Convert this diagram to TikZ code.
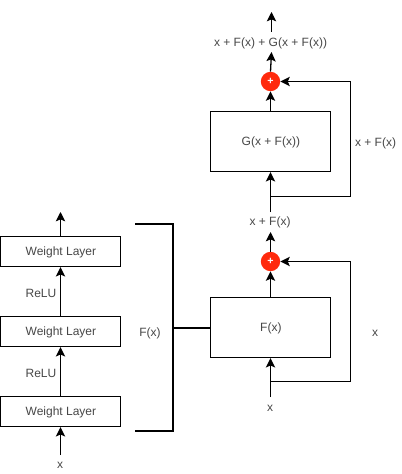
\documentclass[tikz,border=0pt]{standalone}
\usepackage{fontspec}
\setmainfont{Liberation Sans}
\usetikzlibrary{arrows.meta}
\definecolor{sumred}{HTML}{FF2A0D}
\tikzset{
  x=0.75pt,y=-0.75pt,
  box/.style={draw=black,line width=0.98pt,fill=white,inner sep=0pt,anchor=center},
  boxtext/.style={text=black!72,font=\fontsize{9}{11}\selectfont},
  lab/.style={inner sep=0pt,yshift=-0.9pt,text=black!72,font=\fontsize{9}{11}\selectfont,anchor=center},
  sumnode/.style={circle,fill=sumred,draw=none,minimum size=14.5pt,inner sep=0pt,text=white,font=\bfseries\fontsize{8}{8}\selectfont},
  arr/.style={draw=black,line width=0.98pt,-{Stealth[length=7pt,width=7pt,inset=1.5pt]}},
  brk/.style={draw=black,line width=1.9pt,line join=miter}
}
\newcommand{\lowered}[1]{\hspace{0.6pt}\raisebox{0pt}[7pt][0.4pt]{#1}}
\begin{document}
\begin{tikzpicture}
\useasboundingbox (0,0) rectangle (401,474);
% left stack
\node[box,boxtext,minimum width=90pt,minimum height=22.5pt] (w1) at (60.5,411.5) {\lowered{Weight Layer}};
\node[box,boxtext,minimum width=90pt,minimum height=22.5pt] (w2) at (60.5,331.5) {\lowered{Weight Layer}};
\node[box,boxtext,minimum width=90pt,minimum height=22.5pt] (w3) at (60.5,251.5) {\lowered{Weight Layer}};
\node[lab] (xa) at (60,464) {x};
\node[lab] (r1) at (41,372) {ReLU};
\node[lab] (r2) at (41,292) {ReLU};
\node[lab] (fl) at (150,332) {F(x)};
\coordinate (xas) at (60.5,455);
\coordinate (wt) at (60.5,212);
\draw[arr] (xas) -- (w1.south);
\draw[arr] (w1.north) -- (w2.south);
\draw[arr] (w2.north) -- (w3.south);
\draw[arr] (w3.north) -- (wt);
% F block
\node[box,boxtext,minimum width=90pt,minimum height=45pt] (f) at (270.5,327.5) {\lowered{F(x)}};
\node[sumnode] (s1) at (270.5,261.5) {+};
\node[lab] (xb) at (270,407.5) {x};
\node[lab] (xr) at (375,332) {x};
\node[lab] (m) at (270,221) {x + F(x)};
\coordinate (xbs) at (270.5,397);
\coordinate (j1) at (270.5,381.5);
\coordinate (c1) at (350.5,381.5);
\coordinate (c2) at (350.5,261.5);
\coordinate (s1t) at (270.5,232);
\draw[arr] (xbs) -- (f.south);
\draw[arr] (f.north) -- (s1.south);
\draw[arr] (j1) -- (c1) -- (c2) -- (s1.east);
\draw[arr] (s1.north) -- (s1t);
% G block
\node[box,boxtext,minimum width=90pt,minimum height=45pt] (g) at (270.5,141.5) {\lowered{G(x + F(x))}};
\node[sumnode] (s2) at (270.5,81.5) {+};
\node[lab] (xr2) at (375.5,142) {x + F(x)};
\node[lab] (t) at (270.5,42) {x + F(x) + G(x + F(x))};
\coordinate (ms) at (270.5,212);
\coordinate (j2) at (270.5,196.5);
\coordinate (d1) at (350.5,196.5);
\coordinate (d2) at (350.5,81.5);
\coordinate (s2t) at (271.5,52);
\coordinate (ts) at (271.5,32);
\coordinate (tt) at (271.5,12);
\draw[arr] (ms) -- (g.south);
\draw[arr] (g.north) -- (s2.south);
\draw[arr] (j2) -- (d1) -- (d2) -- (s2.east);
\draw[arr] (s2.north) -- (s2t);
\draw[arr] (ts) -- (tt);
% bracket
\coordinate (b1) at (135,224);
\coordinate (b2) at (173,224);
\coordinate (b3) at (173,431);
\coordinate (b4) at (135,431);
\coordinate (b5) at (173,328);
\draw[brk] (b1) -- (b2) -- (b3) -- (b4);
\draw[brk] (b5) -- (f.west |- b5);
\end{tikzpicture}
\end{document}
